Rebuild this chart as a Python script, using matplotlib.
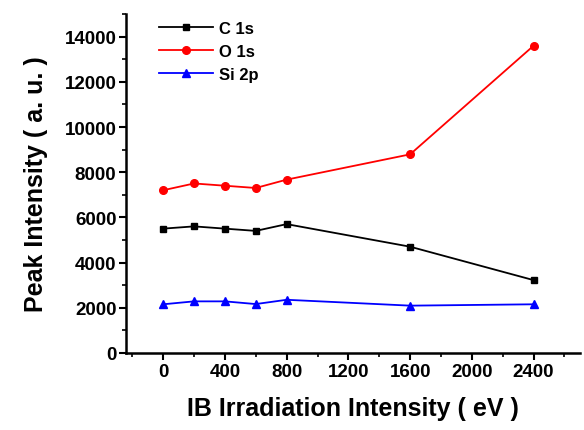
import matplotlib
matplotlib.use("Agg")
import matplotlib.pyplot as plt
from matplotlib.ticker import MultipleLocator

plt.rcParams['font.family'] = ['Liberation Sans', 'DejaVu Sans']
plt.rcParams['font.weight'] = 'bold'

energy = [0, 200, 400, 600, 800, 1600, 2400]
c1s = [5500, 5600, 5500, 5400, 5700, 4700, 3220]
o1s = [7200, 7500, 7400, 7300, 7670, 8790, 13600]
si2p = [2150, 2280, 2280, 2160, 2350, 2090, 2150]
x_ticks = [0, 400, 800, 1200, 1600, 2000, 2400]
y_ticks = [0, 2000, 4000, 6000, 8000, 10000, 12000, 14000]

fig = plt.figure(figsize=(5.84, 4.31), dpi=100)
ax = fig.add_axes([0.216, 0.179, 0.777, 0.786])

ax.plot(energy, c1s, '-s', color='black', lw=1.3, ms=5, label='C 1s')
ax.plot(energy, o1s, '-o', color='red', lw=1.3, ms=5.5, label='O 1s')
ax.plot(energy, si2p, '-^', color='blue', lw=1.3, ms=6, label='Si 2p')

ax.set_xlim(-240, 2700)
ax.set_ylim(0, 15000)
ax.set_xticks(x_ticks)
ax.set_yticks(y_ticks)
ax.xaxis.set_minor_locator(MultipleLocator(200))
ax.yaxis.set_minor_locator(MultipleLocator(1000))

for s in ['top', 'right']:
    ax.spines[s].set_visible(False)
for s in ['left', 'bottom']:
    ax.spines[s].set_linewidth(1.8)

ax.tick_params(axis='both', which='major', direction='out', length=5, width=1.5,
               labelsize=13.5, pad=2)
ax.tick_params(axis='both', which='minor', direction='out', length=3, width=1.2)
for lab in ax.get_xticklabels() + ax.get_yticklabels():
    lab.set_fontweight('bold')

ax.set_xlabel('IB Irradiation Intensity ( eV )', fontsize=18, fontweight='bold', labelpad=12)
ax.set_ylabel('Peak Intensity ( a. u. )', fontsize=18, fontweight='bold', labelpad=12)

leg = ax.legend(loc='upper left', bbox_to_anchor=(0.04, 1.025), frameon=False,
                fontsize=12, handlelength=3.2, handletextpad=0.4, labelspacing=0.5)
for t in leg.get_texts():
    t.set_fontweight('bold')

fig.savefig('out.png', dpi=100)
